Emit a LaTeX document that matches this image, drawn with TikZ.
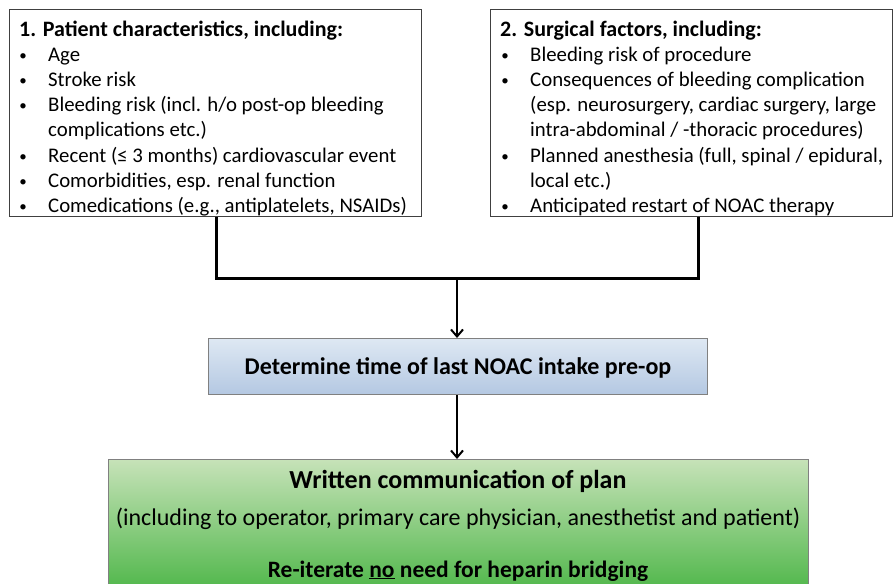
\documentclass[tikz,border=0pt]{standalone}
\usepackage{fontspec}
\setmainfont{Carlito}
\usetikzlibrary{arrows.meta}
\definecolor{boxline}{HTML}{404040}
\definecolor{bluetop}{HTML}{DEE8F3}
\definecolor{bluebot}{HTML}{B4C8E2}
\definecolor{greentop}{HTML}{C6E2B8}
\definecolor{greenbot}{HTML}{48B443}
\tikzset{
  infobox/.style={draw=boxline, line width=1pt, anchor=north west, inner sep=0pt},
  line/.style={anchor=base west, inner sep=0pt, font=\fontsize{20.8}{24}\selectfont},
  bul/.style={anchor=base, inner sep=0pt, font=\fontsize{15}{16}\selectfont},
  head/.style={anchor=base west, inner sep=0pt, font=\bfseries\fontsize{22}{26}\selectfont},
  joint/.style={line width=3pt},
  flow/.style={line width=2pt, -{Straight Barb[length=7pt,width=12pt,line width=2pt]}},
}
\begin{document}
\begin{tikzpicture}[x=1pt,y=-1pt]
\useasboundingbox (0,0) rectangle (893,583);
% boxes
\node[infobox, minimum width=412pt, minimum height=207pt] (pat) at (9,9) {};
\node[infobox, minimum width=402pt, minimum height=207pt] (sur) at (490,9) {};
\node[infobox, minimum width=499pt, minimum height=56pt, top color=bluetop, bottom color=bluebot, draw=gray] (det) at (208,338) {};
\node[infobox, minimum width=700pt, minimum height=140pt, top color=greentop, bottom color=greenbot, draw=gray] (wri) at (108,459) {};
% box 1 text
\node[head] (t1) at (19,36.5) {1. Patient characteristics, including:};
\foreach \y/\t [count=\i] in {61.5/{Age}, 86.5/{Stroke risk}, 111.5/{Bleeding risk (incl. h/o post-op bleeding}, 162.5/{Recent (≤ 3 months) cardiovascular event}, 187.5/{Comorbidities, esp. renal function}, 212/{Comedications (e.g., antiplatelets, NSAIDs)}}{
  \node[bul] (pb\i) at (23,\y-1) {•};
  \node[line] (pl\i) at (48,\y) {\t};
}
\node[line] (pl3b) at (48,136.5) {complications etc.)};
% box 2 text
\node[head] (t2) at (500,36.5) {2. Surgical factors, including:};
\foreach \y/\t [count=\i] in {61.5/{Bleeding risk of procedure}, 86.5/{Consequences of bleeding complication}, 162.5/{Planned anesthesia (full, spinal / epidural,}, 212/{Anticipated restart of NOAC therapy}}{
  \node[bul] (sb\i) at (505,\y-1) {•};
  \node[line] (sl\i) at (530,\y) {\t};
}
\node[line] (sl2b) at (530,111.5) {(esp. neurosurgery, cardiac surgery, large};
\node[line] (sl2c) at (530,136.5) {intra-abdominal / -thoracic procedures)};
\node[line] (sl3b) at (530,187.5) {local etc.)};
% box 3 text
\node[inner sep=0pt, anchor=base, font=\bfseries\fontsize{24}{28}\selectfont] (dt) at (458,374) {Determine time of last NOAC intake pre-op};
% box 4 text
\node[inner sep=0pt, font=\bfseries\fontsize{26}{30}\selectfont, anchor=base] (w1) at (458,488) {Written communication of plan};
\node[inner sep=0pt, font=\fontsize{24}{28}\selectfont, anchor=base] (w2) at (458,525) {(including to operator, primary care physician, anesthetist and patient)};
\node[inner sep=0pt, font=\bfseries\fontsize{23.5}{28}\selectfont, anchor=base] (w3) at (458,577) {Re-iterate \underline{no} need for heparin bridging};
% connectors
\coordinate (jl) at (216,278);
\coordinate (jr) at (698,278);
\coordinate (jm) at (457,278);
\draw[joint] (pat.south -| jl) -- (jl) -- (jr) -- (sur.south -| jr);
\draw[flow] (jm) -- (det.north -| jm);
\draw[flow] (det.south -| jm) -- (wri.north -| jm);
\end{tikzpicture}
\end{document}
